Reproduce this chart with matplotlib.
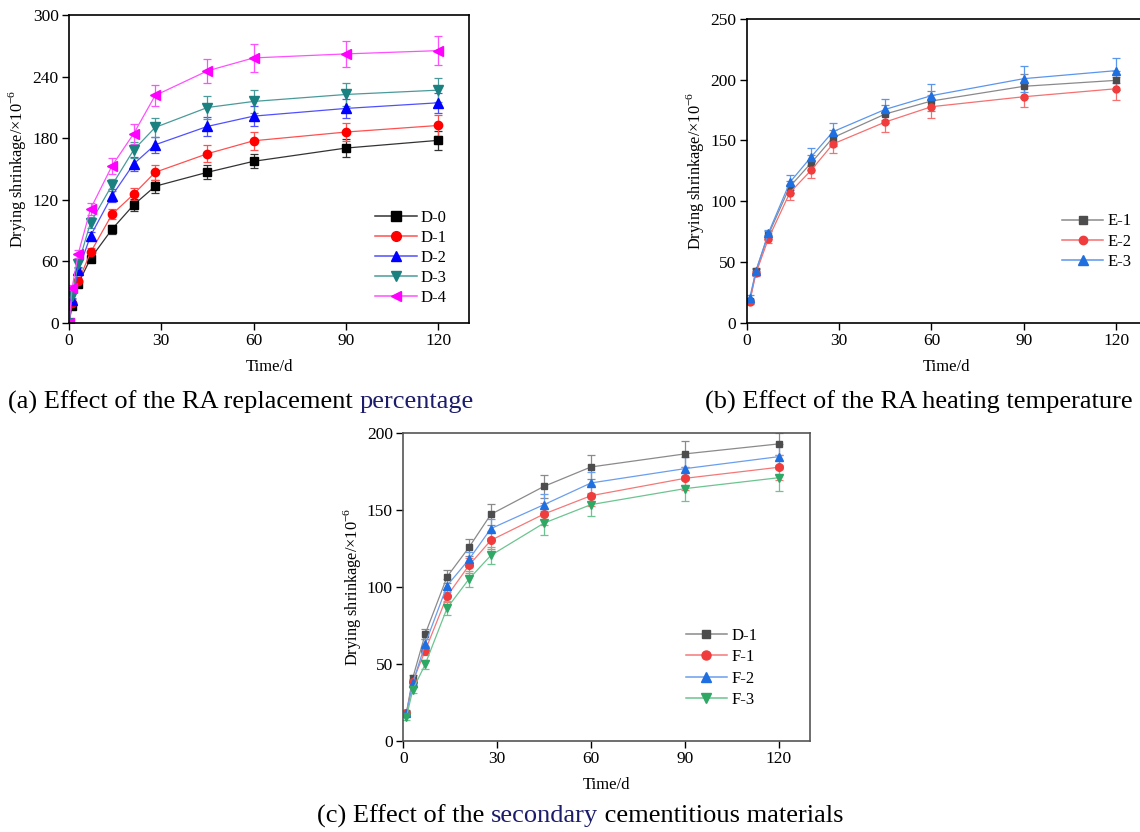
# drying shrinkage vs time, three panels (a) RA replacement, (b) heating temp, (c) SCMs
import matplotlib.pyplot as plt
from matplotlib.lines import Line2D

plt.rcParams['font.family'] = ['Liberation Serif', 'DejaVu Serif']
plt.rcParams['mathtext.fontset'] = 'custom'
plt.rcParams['mathtext.rm'] = 'Liberation Serif'

# ---- data ----
t_a = [0, 1, 3, 7, 14, 21, 28, 45, 60, 90, 120]
t_bc = [1, 3, 7, 14, 21, 28, 45, 60, 90, 120]

labels_a = ['D-0', 'D-1', 'D-2', 'D-3', 'D-4']
d0 = [0, 16.8, 38.2, 62.8, 91.4, 115.0, 133.2, 146.8, 157.5, 170.4, 177.9]
d1 = [0, 19.4, 40.5, 68.7, 105.9, 125.4, 146.8, 164.9, 177.5, 186.0, 192.4]
d2 = [0, 22.7, 51.2, 84.9, 124.1, 154.9, 173.6, 191.5, 201.5, 209.0, 214.5]
d3 = [0, 25.9, 57.3, 97.8, 134.4, 168.5, 190.5, 209.9, 215.8, 222.6, 226.8]
d4 = [0, 34.0, 67.4, 111.1, 153.2, 184.3, 221.6, 245.6, 258.2, 262.1, 265.3]
d0_err = [0, 2, 2.5, 3.5, 4.5, 5.5, 6.5, 7, 7, 9, 9.5]
d1_err = [0, 2, 3, 4, 5, 6, 7.5, 8, 9, 9, 10]
d2_err = [0, 2, 3, 4, 6, 7, 8, 9, 9.5, 9.5, 10]
d3_err = [0, 3, 4, 5, 6, 8, 9, 11, 11, 11, 11.7]
d4_err = [0, 3, 4, 5.5, 7.8, 9.7, 10.7, 12, 13.6, 13, 14]

labels_b = ['E-1', 'E-2', 'E-3']
e1 = [18.1, 42.8, 72.2, 112.0, 131.7, 152.3, 171.8, 182.5, 194.6, 199.5]
e2 = [17.3, 40.6, 68.9, 107.0, 125.7, 147.1, 165.2, 177.8, 186.0, 192.6]
e3 = [20.6, 42.5, 73.5, 115.5, 136.7, 157.2, 175.6, 186.9, 200.9, 207.5]
e1_err = [1.5, 2, 3, 5, 6, 6.5, 7, 8, 9.9, 8]
e2_err = [1.5, 2, 3, 6, 6.9, 7.7, 8.5, 9.3, 8.8, 9.3]
e3_err = [2, 2, 3, 6, 6.9, 7.4, 8.5, 9.3, 10.7, 10.4]

labels_c = ['D-1', 'F-1', 'F-2', 'F-3']
c_d1 = [18.2, 40.6, 69.4, 106.7, 125.8, 147.3, 165.5, 178.1, 186.6, 193.1]
f1 = [17.8, 38.4, 58.6, 94.1, 114.1, 130.4, 147.5, 159.4, 170.7, 177.9]
f2 = [17.8, 37.3, 62.9, 100.9, 118.0, 138.0, 153.6, 167.7, 177.0, 184.8]
f3 = [15.2, 33.0, 49.7, 86.3, 105.2, 120.6, 141.6, 153.6, 164.0, 171.1]
c_d1_err = [1.5, 2, 3, 4.3, 5.6, 7, 7.4, 8, 8.7, 7]
f1_err = [1.5, 2, 3, 4, 5, 6, 7, 7, 7.5, 8]
f2_err = [1.5, 2, 3, 4, 5, 6, 7, 7, 7.5, 8]
f3_err = [1.5, 2, 3, 4.5, 5.2, 5.6, 7.8, 7.6, 8.2, 8.5]

W, H = 1140, 832
fig = plt.figure(figsize=(W / 100, H / 100), dpi=100)


def px_axes(l, r, top, bot):
    return fig.add_axes([l / W, 1 - bot / H, (r - l) / W, (bot - top) / H])


def style(ax, ylim, yticks, spine_c='black'):
    ax.set_xlim(0, 130)
    ax.set_ylim(*ylim)
    ax.set_xticks([0, 30, 60, 90, 120])
    ax.set_yticks(yticks)
    ax.tick_params(direction='out', length=5, width=1, labelsize=12.5, pad=2.5)
    for s in ax.spines.values():
        s.set_color(spine_c)
        s.set_linewidth(1.2)
    ax.set_xlabel('Time/d', fontsize=12, labelpad=7)
    ax.set_ylabel('Drying shrinkage/×10$^{\\mathregular{-6}}$', fontsize=11.8, labelpad=3)


def series(ax, t, ys, errs, labels, markers, mcolors, lcolors, ms, anchor, spacing):
    handles = []
    for y, e, lab, m, mc, lc, s in zip(ys, errs, labels, markers, mcolors, lcolors, ms):
        ax.errorbar(t, y, yerr=e, color=lc, ecolor=lc, marker=m, ms=s, mfc=mc, mec=mc,
                    lw=0.9, elinewidth=0.9, capsize=3, capthick=0.9)
        handles.append(Line2D([], [], color=lc, lw=1.1, marker=m, ms=s + 1, mfc=mc, mec=mc))
    ax.legend(handles, labels, loc='upper left', bbox_to_anchor=anchor, frameon=False,
              fontsize=12, handlelength=2.5, handletextpad=0.25, labelspacing=spacing,
              borderaxespad=0, borderpad=0)


# (a)
ax_a = px_axes(69, 469, 15, 323)
series(ax_a, t_a, [d0, d1, d2, d3, d4], [d0_err, d1_err, d2_err, d3_err, d4_err], labels_a,
       ['s', 'o', '^', 'v', '<'], ['black', '#ff0000', '#0000ff', '#1a8080', '#ff00ff'],
       ['#333333', '#ff5050', '#5050ff', '#4a9a9a', '#ff50ff'],
       [5.5, 6, 6.5, 6.5, 6.5], (0.765, 0.368), 0.25)
style(ax_a, (0, 300), range(0, 301, 60))

# (b)
ax_b = px_axes(746.7, 1147, 19, 322.7)
series(ax_b, t_bc, [e1, e2, e3], [e1_err, e2_err, e3_err], labels_b, ['s', 'o', '^'],
       ['#4d4d4d', '#f03c3c', '#1f6fe0'], ['#8a8a8a', '#f57070', '#5a96ee'], [5, 5, 6],
       (0.787, 0.36), 0.25)
style(ax_b, (0, 250), range(0, 251, 50))

# (c)
ax_c = px_axes(403.3, 810, 433.3, 740.7)
series(ax_c, t_bc, [c_d1, f1, f2, f3], [c_d1_err, f1_err, f2_err, f3_err], labels_c,
       ['s', 'o', '^', 'v'], ['#4d4d4d', '#f03c3c', '#1f6fe0', '#2ea864'],
       ['#8a8a8a', '#f57878', '#6a9eee', '#6cc490'], [5, 5.5, 6, 6],
       (0.694, 0.368), 0.33)
style(ax_c, (0, 200), range(0, 201, 50), spine_c='#555555')


# captions, one word in navy like the source
def caption(x, y, parts, ha='left'):
    r = fig.canvas.get_renderer()
    txts = []
    cx = x
    for s, c in parts:
        tx = fig.text(cx / W, 1 - y / H, s, fontsize=19, color=c, va='center', ha='left')
        cx += tx.get_window_extent(r).width
        txts.append(tx)
    shift = {'left': 0, 'center': (cx - x) / 2, 'right': cx - x}[ha]
    for tx in txts:
        px, py = tx.get_position()
        tx.set_position((px - shift / W, py))


navy = '#1c1c6a'
caption(8, 402, [('(a) Effect of the RA replacement ', 'black'), ('percentage', navy)])
caption(1133, 402, [('(b) Effect of the RA heating temperature', 'black')], ha='right')
caption(580, 816, [('(c) Effect of the ', 'black'), ('secondary', navy),
                   (' cementitious materials', 'black')], ha='center')

fig.savefig('out.png', dpi=100)
